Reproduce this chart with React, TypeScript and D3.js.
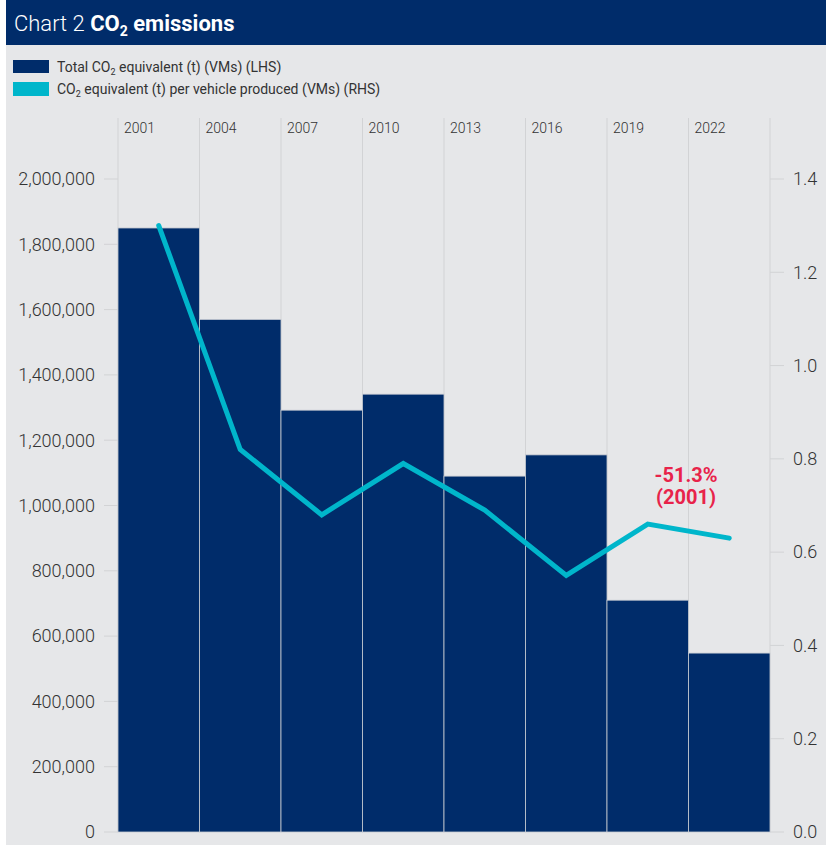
import React from "react";
import * as d3 from "d3";

const years = ["2001", "2004", "2007", "2010", "2013", "2016", "2019", "2022"];
const totalCO2 = [1850000, 1570000, 1292000, 1341000, 1090000, 1155000, 710000, 548000];
const perVehicle = [1.3, 0.82, 0.68, 0.79, 0.69, 0.55, 0.66, 0.63];
const leftTicks = [0, 200000, 400000, 600000, 800000, 1000000, 1200000, 1400000, 1600000, 1800000, 2000000];
const rightTicks = [0, 0.2, 0.4, 0.6, 0.8, 1.0, 1.2, 1.4];

const W = 830;
const H = 849;
const NAVY = "#002c6a";
const CYAN = "#00b6cb";
const GRID = "#d2d3d5";
const BG = "#e6e7e9";
const TXT = "#333333";
const FONT = "Roboto, 'Liberation Sans Narrow', sans-serif";

export default function App() {
  const x = d3.scaleBand<string>().domain(years).range([118, 770]).padding(0);
  const yL = d3.scaleLinear().domain([0, 2000000]).range([832, 179]);
  const yR = d3.scaleLinear().domain([0, 1.4]).range([832, 179]);
  const fmt = d3.format(",");
  const line = d3
    .line<number>()
    .x((_, i) => (x(years[i]) as number) + x.bandwidth() / 2)
    .y((d) => yR(d));

  return (
    <svg width={W} height={H} style={{ position: "absolute", left: 0, top: 0, display: "block" }}>
      <rect x={0} y={0} width={W} height={H} fill="#ffffff" />
      <rect x={6} y={45} width={820} height={800} fill={BG} />
      <rect x={6} y={0} width={820} height={45} fill={NAVY} />
      <text x={14} y={31} fill="#ffffff" fontFamily={FONT} fontSize={22}>
        <tspan fontWeight={300}>Chart 2 </tspan>
        <tspan fontWeight={700}>CO</tspan>
        <tspan fontWeight={700} fontSize={14} dy={5}>2</tspan>
        <tspan fontWeight={700} dy={-5}> emissions</tspan>
      </text>

      {/* legend */}
      <rect x={13} y={60} width={36} height={13} fill={NAVY} />
      <rect x={13} y={82} width={36} height={14} fill={CYAN} />
      <text x={57} y={72} fill={TXT} fontFamily={FONT} fontSize={14}>
        <tspan>Total CO</tspan>
        <tspan fontSize={9} dy={3}>2</tspan>
        <tspan dy={-3}> equivalent (t) (VMs) (LHS)</tspan>
      </text>
      <text x={57} y={94} fill={TXT} fontFamily={FONT} fontSize={14}>
        <tspan>CO</tspan>
        <tspan fontSize={9} dy={3}>2</tspan>
        <tspan dy={-3}> equivalent (t) per vehicle produced (VMs) (RHS)</tspan>
      </text>

      {/* vertical gridlines */}
      {years.map((yr) => (
        <line key={yr} x1={x(yr)} x2={x(yr)} y1={118} y2={832} stroke={GRID} strokeWidth={1} />
      ))}
      <line x1={770} x2={770} y1={118} y2={832} stroke={GRID} strokeWidth={1} />

      {/* left ticks */}
      {leftTicks.map((t) => (
        <g key={"l" + t}>
          <line x1={104} x2={118} y1={yL(t)} y2={yL(t)} stroke={GRID} strokeWidth={1} />
          <text x={95} y={yL(t)} dy="0.35em" textAnchor="end" fill={TXT} fontFamily={FONT} fontSize={18} fontWeight={300}>
            {fmt(t)}
          </text>
        </g>
      ))}
      {/* right ticks */}
      {rightTicks.map((t) => (
        <g key={"r" + t}>
          <line x1={770} x2={784} y1={yR(t)} y2={yR(t)} stroke={GRID} strokeWidth={1} />
          <text x={793} y={yR(t)} dy="0.35em" textAnchor="start" fill={TXT} fontFamily={FONT} fontSize={18} fontWeight={300}>
            {t.toFixed(1)}
          </text>
        </g>
      ))}

      {/* year labels */}
      {years.map((yr) => (
        <text key={"t" + yr} x={(x(yr) as number) + 6} y={133} fill={TXT} fontFamily={FONT} fontSize={14} fontWeight={300}>
          {yr}
        </text>
      ))}

      {/* bars */}
      {years.map((yr, i) => (
        <rect
          key={"b" + yr}
          x={x(yr)}
          y={yL(totalCO2[i])}
          width={x.bandwidth()}
          height={832 - yL(totalCO2[i])}
          fill={NAVY}
          stroke="#c9ccd3"
          strokeWidth={0.8}
        />
      ))}

      {/* line */}
      <path d={line(perVehicle) || ""} fill="none" stroke={CYAN} strokeWidth={5} strokeLinecap="round" strokeLinejoin="miter" />

      {/* annotation */}
      <text x={686} y={482} textAnchor="middle" fill="#e8234a" fontFamily={FONT} fontSize={20} fontWeight={700}>
        -51.3%
      </text>
      <text x={686} y={504} textAnchor="middle" fill="#e8234a" fontFamily={FONT} fontSize={20} fontWeight={700}>
        (2001)
      </text>
    </svg>
  );
}
